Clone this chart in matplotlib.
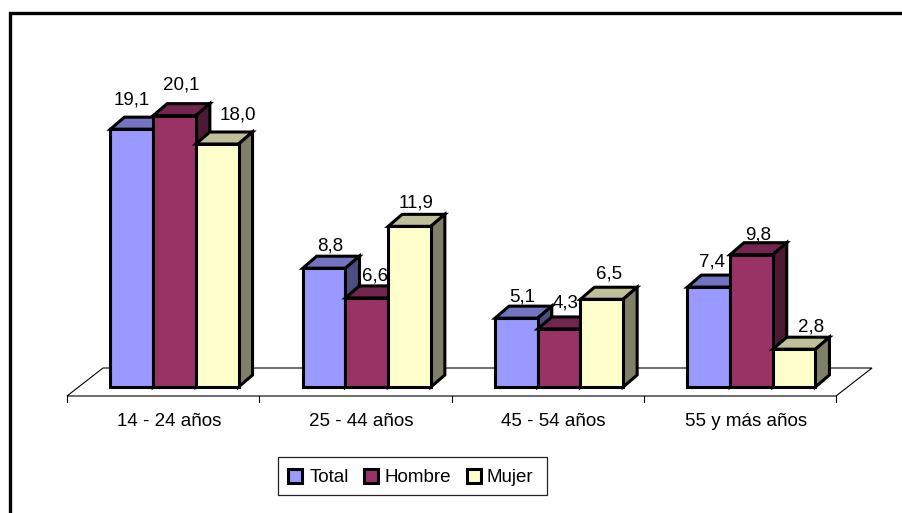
import matplotlib
matplotlib.use("Agg")
import matplotlib.pyplot as plt
from matplotlib.patches import Polygon, Rectangle

categories = ["14 - 24 años", "25 - 44 años", "45 - 54 años", "55 y más años"]
series_names = ["Total", "Hombre", "Mujer"]
total = [19.1, 8.8, 5.1, 7.4]
hombre = [20.1, 6.6, 4.3, 9.8]
mujer = [18.0, 11.9, 6.5, 2.8]
series_values = [total, hombre, mujer]
front_colors = ["#9999FF", "#993366", "#FFFFCC"]
top_colors = ["#7373BF", "#73264D", "#BFBF99"]
side_colors = ["#4D4D80", "#4D1A33", "#808066"]

FONT = "Liberation Sans"
FS = 13.5

W, H = 902, 513
PX_X, PX_Y = 192.3, 13.5      # pixels per category / per value unit
X0, Y0 = 174.5, 387           # pixel of category 0 centre, of value 0
fig = plt.figure(figsize=(W / 100, H / 100), dpi=100)
ax = fig.add_axes([0, 0, 1, 1])
ax.set_xlim(-X0 / PX_X, (W - X0) / PX_X)
ax.set_ylim((Y0 - H) / PX_Y, Y0 / PX_Y)
ax.axis("off")

dx, dy = 14 / PX_X, 12 / PX_Y
bw = 42.7 / PX_X

# outer frame: left and top edges only
frame_x = (10 - X0) / PX_X
frame_y = (Y0 - 13) / PX_Y
ax.plot([frame_x, frame_x, (W - X0) / PX_X], [(Y0 - H) / PX_Y, frame_y, frame_y],
        color="black", lw=2.4, solid_joinstyle="miter", solid_capstyle="butt")

# floor
floor_front = (Y0 - 396) / PX_Y
floor_back = (Y0 - 368) / PX_Y
fl = (67 - X0) / PX_X
fr = (836 - X0) / PX_X
ax.add_patch(Polygon([(fl, floor_front), (fl + 36 / PX_X, floor_back), (fr + 36 / PX_X, floor_back), (fr, floor_front)],
                     closed=True, fc="white", ec="black", lw=0.8, zorder=1))
for i in range(len(categories) + 1):
    x = fl + i * (fr - fl) / len(categories)
    ax.plot([x, x], [floor_front, floor_front - 6 / PX_Y], color="black", lw=0.8, zorder=1)

# bars
z = 2
lw = 2.2
for i in range(len(categories)):
    for s, vals in enumerate(series_values):
        v = vals[i]
        x0 = i + (s - 1.5) * bw
        x1 = x0 + bw
        ax.add_patch(Polygon([(x0, v), (x0 + dx, v + dy), (x1 + dx, v + dy), (x1, v)],
                             closed=True, fc=top_colors[s], ec="black", lw=lw, joinstyle="miter", zorder=z))
        ax.add_patch(Polygon([(x1, 0), (x1 + dx, dy), (x1 + dx, v + dy), (x1, v)],
                             closed=True, fc=side_colors[s], ec="black", lw=lw, joinstyle="miter", zorder=z))
        ax.add_patch(Rectangle((x0, 0), bw, v, fc=front_colors[s], ec="black", lw=lw, joinstyle="miter", zorder=z))
        z += 1

# value labels (pixel nudges per label)
label_dx = [[0, 7, 21], [6, 8, 7], [6, 6, 7], [3, 7, 17]]
label_dy = [[29, 31, 29], [22, 22, 23], [21, 26, 25], [25, 20, 22]]
for i in range(len(categories)):
    for s, vals in enumerate(series_values):
        v = vals[i]
        x = i + (s - 1) * bw + label_dx[i][s] / PX_X
        ax.text(x, v + label_dy[i][s] / PX_Y, f"{v:.1f}".replace(".", ","), ha="center", va="center",
                fontsize=FS, family=FONT, color="black", zorder=50)

# category labels
for i, c in enumerate(categories):
    ax.text(i - 5.5 / PX_X, (Y0 - 421) / PX_Y, c, ha="center", va="center", fontsize=FS,
            family=FONT, color="black", zorder=50)

# legend
lx0, lx1 = (278 - X0) / PX_X, (547 - X0) / PX_X
ly0, ly1 = (Y0 - 495) / PX_Y, (Y0 - 457) / PX_Y
ax.add_patch(Rectangle((lx0, ly0), lx1 - lx0, ly1 - ly0, fc="white", ec="#222222", lw=0.9, zorder=40))
swatch_px = [288, 364, 467]
text_px = [310, 385, 487]
for s, name in enumerate(series_names):
    ax.add_patch(Rectangle(((swatch_px[s] - X0) / PX_X, (Y0 - 483) / PX_Y), 14 / PX_X, 14 / PX_Y,
                           fc=front_colors[s], ec="black", lw=2.2, zorder=41))
    ax.text((text_px[s] - X0) / PX_X, (Y0 - 477) / PX_Y, name, ha="left", va="center", fontsize=FS,
            family=FONT, color="black", zorder=42)

fig.savefig("out.png", dpi=100)
